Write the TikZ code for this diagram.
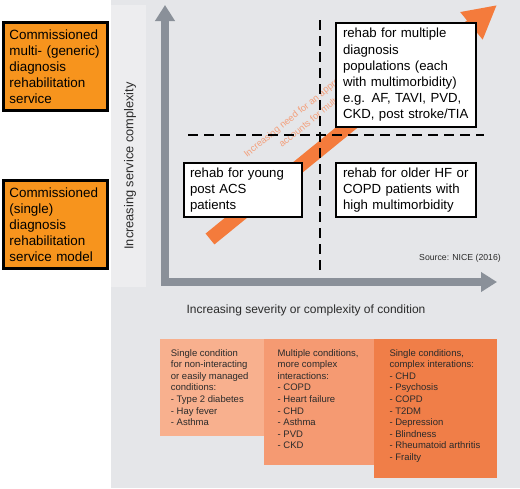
\documentclass[tikz,border=0pt]{standalone}
\usepackage{fontspec}
\setmainfont{Liberation Sans}
\usetikzlibrary{positioning,arrows.meta}

\definecolor{panelgray}{HTML}{E5E6E9}
\definecolor{stripgray}{HTML}{EDEDEF}
\definecolor{axisgray}{HTML}{8A9099}
\definecolor{commorange}{HTML}{F7941D}
\definecolor{groworange}{HTML}{F47B3C}
\definecolor{growtext}{HTML}{F3A07C}
\definecolor{condlight}{HTML}{F8B08E}
\definecolor{condmid}{HTML}{F59A72}
\definecolor{conddark}{HTML}{F07E48}
\definecolor{inktext}{HTML}{2B2B2B}

\newcommand{\setfs}[2]{\fontsize{#1}{#2}\selectfont}

\begin{document}
\begin{tikzpicture}[x=1pt, y=-1pt,
    commbox/.style={draw=black, line width=3.3pt, fill=commorange, align=left, text width=92pt, inner xsep=6pt, minimum width=104pt, minimum height=88pt, font=\setfs{13.4}{16}},
    quadbox/.style={draw=black, line width=1.8pt, fill=white, align=left, font=\setfs{13.2}{16.2}},
    condbox/.style={anchor=north west, inner sep=0pt},
    condtext/.style={align=left, inner sep=0pt, text=inktext, font=\setfs{9.5}{11.6}},
    axisline/.style={draw=axisgray, line width=8pt, {Triangle[length=16pt,width=19pt]}-{Triangle[length=16pt,width=19pt]}},
    growline/.style={draw=groworange, line width=14pt, -{Triangle[length=33pt,width=33pt]}},
    quadline/.style={draw=black, line width=2.8pt, dash pattern=on 10pt off 6pt},
    growlabel/.style={rotate=39.2, anchor=base west, inner sep=0pt, text=growtext, font=\setfs{9.4}{11}}]
    \useasboundingbox (0,0) rectangle (520,488);
    % panel
    \fill[panelgray] (111,0) rectangle (520,488);
    \fill[stripgray] (111,5) rectangle (146,287);
    \node (servlabel) [rotate=90, text=inktext, font=\setfs{12.8}{15}] at (130,166) {Increasing service complexity};
    % axes
    \coordinate (ytop) at (165,5);
    \coordinate (origin) at (165,282);
    \coordinate (xend) at (497,282);
    \draw[axisline] (ytop) -- (origin) -- (xend);
    % rising need
    \coordinate (growstart) at (210,239);
    \coordinate (growtip) at (497,5);
    \draw[growline] (growstart) -- (growtip);
    \node (growa) [growlabel] at (247,158) {Increasing need for an appro};
    \node (growb) [growlabel] at (282,148) {accounts for mult};
    % quadrants
    \coordinate (vtop) at (320,20);
    \coordinate (vbot) at (320,272);
    \coordinate (hleft) at (188,135);
    \coordinate (hright) at (484,135);
    \draw[quadline] (vtop) -- (vbot);
    \draw[quadline] (hleft) -- (hright);
    \node (multidiag) [quadbox, text width=126pt, inner xsep=7pt, minimum height=104pt] at (406,75) {rehab for multiple\\diagnosis\\populations (each\\with multimorbidity)\\e.g. AF, TAVI, PVD,\\CKD, post stroke/TIA};
    \node (young) [quadbox, text width=106pt, inner xsep=6pt, minimum height=54pt] at (243,190) {rehab for young\\post ACS\\patients};
    \node (olderhf) [quadbox, text width=126pt, inner xsep=7pt, minimum height=54pt] at (406,190) {rehab for older HF or\\COPD patients with\\high multimorbidity};
    \node (source) [anchor=east, inner sep=0pt, text=inktext, font=\setfs{8.7}{10}] at (501,258) {Source: NICE (2016)};
    \node (sevlabel) [text=inktext, font=\setfs{12}{14}] at (306,310) {Increasing severity or complexity of condition};
    % condition groups
    \node (condA) [condbox, fill=condlight, minimum width=105pt, minimum height=97pt] at (160,339) {};
    \node (condB) [condbox, fill=condmid, minimum width=110pt, minimum height=126pt] at (264,339) {};
    \node (condC) [condbox, fill=conddark, minimum width=123pt, minimum height=139pt] at (374,339) {};
    \node (listA) [condtext, below right=10pt and 10.7pt of condA.north west] {Single condition\\for non-interacting\\or easily managed\\conditions:\\- Type 2 diabetes\\- Hay fever\\- Asthma};
    \node (listB) [condtext, below right=10pt and 13.5pt of condB.north west] {Multiple conditions,\\more complex\\interactions:\\- COPD\\- Heart failure\\- CHD\\- Asthma\\- PVD\\- CKD};
    \node (listC) [condtext, below right=10pt and 15.3pt of condC.north west] {Single conditions,\\complex interations:\\- CHD\\- Psychosis\\- COPD\\- T2DM\\- Depression\\- Blindness\\- Rheumatoid arthritis\\- Frailty};
    % commissioning models
    \node (multi) [commbox] at (55.4,66.6) {Commissioned\\multi- (generic)\\diagnosis\\rehabilitation\\service};
    \node (single) [commbox] at (55.4,224.5) {Commissioned\\(single)\\diagnosis\\rehabilitation\\service model};
\end{tikzpicture}
\end{document}
